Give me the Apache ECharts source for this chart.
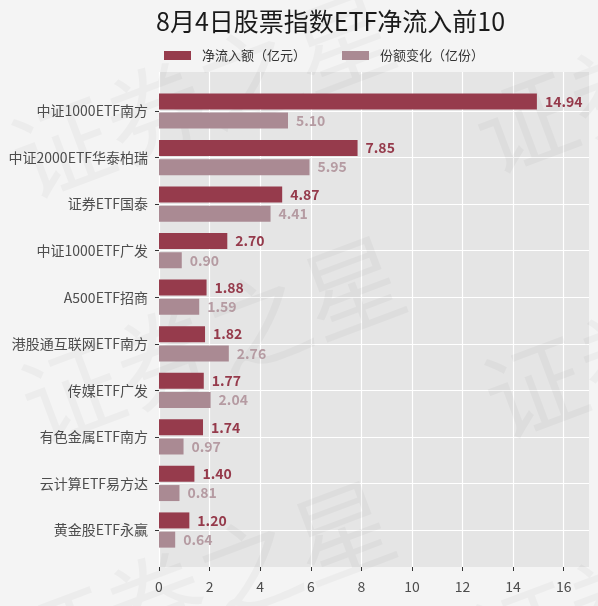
<!DOCTYPE html>
<html>
<head>
<meta charset="utf-8">
<script src="https://cdn.jsdelivr.net/npm/echarts@6/dist/echarts.min.js"></script>
<style>
html,body{margin:0;padding:0;background:#f4f4f4;}
#chart{width:598px;height:606px;}
</style>
</head>
<body>
<div id="chart"></div>
<script>
const titleText = '8月4日股票指数ETF净流入前10';
const categories = ['中证1000ETF南方','中证2000ETF华泰柏瑞','证券ETF国泰','中证1000ETF广发','A500ETF招商','港股通互联网ETF南方','传媒ETF广发','有色金属ETF南方','云计算ETF易方达','黄金股ETF永赢'];
const netInflow = [14.94, 7.85, 4.87, 2.70, 1.88, 1.82, 1.77, 1.74, 1.40, 1.20];
const shareChange = [5.10, 5.95, 4.41, 0.90, 1.59, 2.76, 2.04, 0.97, 0.81, 0.64];
const seriesNames = ['净流入额（亿元）','份额变化（亿份）'];
const xTicks = [0, 2, 4, 6, 8, 10, 12, 14, 16];
const watermark = '证券之星';

const FONT = '"Noto Sans CJK SC", "Noto Sans", sans-serif';
const DARK = '#963b4c';
const LIGHT = '#aa8a93';

const chart = echarts.init(document.getElementById('chart'), null, {renderer: 'canvas'});

const wm = (x, y) => ({
  type: 'text', x: x, y: y, rotation: 0.36, z: 1, silent: true,
  style: {text: watermark, fontSize: 100, fontFamily: FONT, fill: 'rgba(0,0,0,0.03)',
    textVerticalAlign: 'middle', verticalAlign: 'middle'}
});

chart.setOption({
  backgroundColor: '#f4f4f4',
  textStyle: {fontFamily: FONT},
  title: {
    text: titleText, left: 151, top: 4,
    textStyle: {fontSize: 25, fontWeight: 'normal', color: '#1a1a1a', fontFamily: FONT}
  },
  legend: {
    data: seriesNames, left: 159, top: 44, itemWidth: 27, itemHeight: 9, itemGap: 36,
    icon: 'rect',
    textStyle: {fontSize: 13, color: '#333', fontFamily: FONT, padding: [0, 0, 0, 6]}
  },
  graphic: [wm(15, 165), wm(25, 410), wm(15, 655), wm(478, 140), wm(488, 405), wm(478, 650)],
  grid: [
    {left: 159, right: 9, top: 72, bottom: 39, show: true, backgroundColor: '#e5e5e5', borderWidth: 0, z: 0},
    {left: 159, right: 9, top: 87.7, bottom: 52.7, show: false}
  ],
  xAxis: [
    {
      gridIndex: 0, type: 'value', min: 0, max: 17, interval: 2,
      axisLine: {show: false},
      axisTick: {show: true, length: 4, lineStyle: {color: '#333'}, customValues: xTicks},
      axisLabel: {fontSize: 14, color: '#4d4d4d', margin: 13, customValues: xTicks, fontFamily: FONT},
      splitLine: {show: true, lineStyle: {color: '#ffffff', width: 1.2}}
    },
    {gridIndex: 1, type: 'value', min: 0, max: 17, show: false}
  ],
  yAxis: [
    {gridIndex: 0, type: 'value', min: 0, max: 1, show: false},
    {
      gridIndex: 1, type: 'category', data: categories, inverse: true,
      axisLine: {show: false},
      axisTick: {show: true, length: 4, alignWithLabel: true, lineStyle: {color: '#333'}},
      axisLabel: {fontSize: 14, color: '#4d4d4d', margin: 11, fontFamily: FONT},
      splitLine: {show: true, alignWithLabel: true, interval: 0, lineStyle: {color: '#ffffff', width: 1.2}}
    }
  ],
  series: [
    {
      name: seriesNames[0], type: 'bar', xAxisIndex: 1, yAxisIndex: 1, z: 3,
      data: netInflow, barWidth: 16, barGap: '20%',
      itemStyle: {color: DARK},
      label: {show: true, position: 'right', distance: 8, fontSize: 14, fontWeight: 'bold', color: '#953a4b',
        fontFamily: FONT, formatter: p => p.value.toFixed(2)}
    },
    {
      name: seriesNames[1], type: 'bar', xAxisIndex: 1, yAxisIndex: 1, z: 3,
      data: shareChange, barWidth: 16, barGap: '20%',
      itemStyle: {color: LIGHT},
      label: {show: true, position: 'right', distance: 8, fontSize: 14, fontWeight: 'bold', color: '#b59ba2',
        fontFamily: FONT, formatter: p => p.value.toFixed(2)}
    }
  ]
});
</script>
</body>
</html>
